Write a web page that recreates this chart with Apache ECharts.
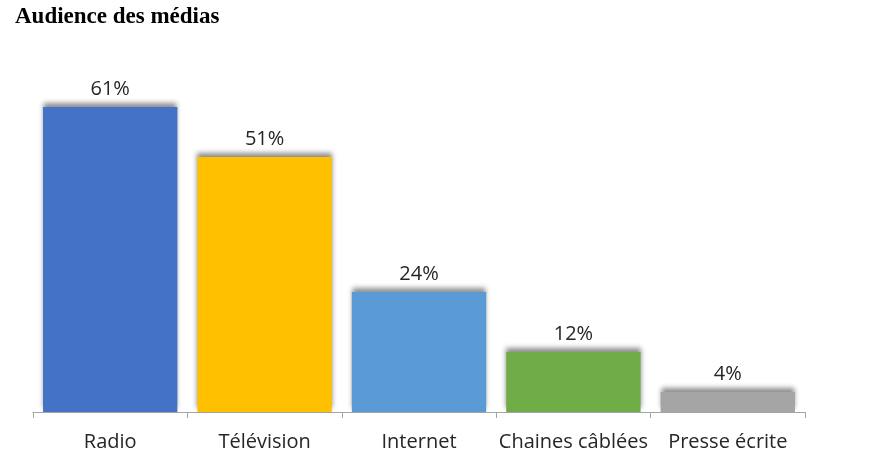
<!DOCTYPE html>
<html>
<head>
<meta charset="utf-8">
<script src="https://cdn.jsdelivr.net/npm/echarts@6/dist/echarts.min.js"></script>
<style>
  html, body { margin: 0; padding: 0; background: #fff; }
  #main { width: 885px; height: 463px; }
</style>
</head>
<body>
<div id="main"></div>
<script>
// données
const categories = ["Radio", "Télévision", "Internet", "Chaines câblées", "Presse écrite"];
const values = [61, 51, 24, 12, 4];
const colors = ["#4472C4", "#FFC000", "#5B9BD5", "#70AD47", "#A5A5A5"];

const chart = echarts.init(document.getElementById("main"));
const option = {
  animation: false,
  backgroundColor: "#fff",
  title: {
    text: "Audience des médias",
    left: 10,
    top: 1,
    textStyle: {
      fontFamily: "Liberation Serif",
      fontWeight: "bold",
      fontSize: 23,
      color: "#000"
    }
  },
  grid: { left: 33, right: 80, top: 62, bottom: 51 },
  xAxis: {
    type: "category",
    data: categories,
    axisLine: { lineStyle: { color: "#A6A6A6", width: 1 } },
    axisTick: { show: true, interval: 0, length: 6, lineStyle: { color: "#A6A6A6" } },
    axisLabel: {
      interval: 0,
      margin: 20,
      fontFamily: "Open Sans",
      fontSize: 20,
      color: "#262626"
    }
  },
  yAxis: {
    type: "value",
    min: 0,
    max: 70,
    show: false
  },
  series: [{
    type: "bar",
    barCategoryGap: "13%",
    data: values.map((v, i) => ({
      value: v,
      itemStyle: { color: colors[i] }
    })),
    itemStyle: {
      shadowColor: "rgba(0,0,0,0.45)",
      shadowBlur: 5,
      shadowOffsetY: -4
    },
    label: {
      show: true,
      position: "top",
      distance: 8,
      formatter: p => p.value + "%",
      fontFamily: "Open Sans",
      fontSize: 20,
      color: "#262626"
    }
  }]
};
chart.setOption(option);
</script>
</body>
</html>
